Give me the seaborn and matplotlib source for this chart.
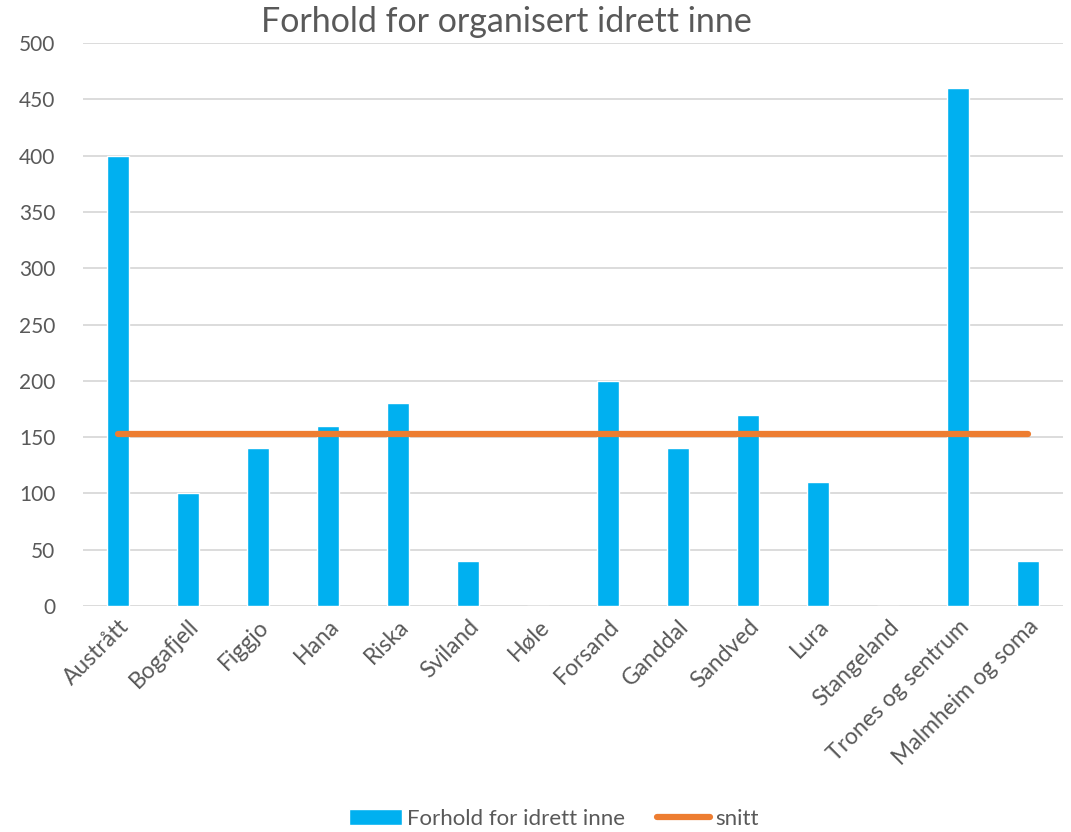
import matplotlib
matplotlib.use("Agg")
import matplotlib.pyplot as plt
import seaborn as sns
import pandas as pd
from matplotlib.patches import Patch
from matplotlib.lines import Line2D

# Values
omrader = ["Austrått", "Bogafjell", "Figgjo", "Hana", "Riska", "Sviland", "Høle",
           "Forsand", "Ganddal", "Sandved", "Lura", "Stangeland",
           "Trones og sentrum", "Malmheim og soma"]
forhold = [400, 100, 140, 160, 180, 40, 0, 200, 140, 170, 110, 0, 460, 40]
snitt = [152.86] * len(omrader)

df = pd.DataFrame({"omrade": omrader, "forhold": forhold, "snitt": snitt})

bar_color = "#00B0F0"
line_color = "#ED7D31"
text_color = "#595959"
grid_color = "#D9D9D9"

sns.set_style("white")
plt.rcParams["font.family"] = ["Lato", "DejaVu Sans"]

fig = plt.figure(figsize=(10.71, 8.32), dpi=100)
ax = fig.add_axes([0.0775, 0.2716, 0.915, 0.6767])

sns.barplot(data=df, x="omrade", y="forhold", color=bar_color, width=0.31,
            saturation=1, ax=ax, zorder=2)
sns.lineplot(data=df, x="omrade", y="snitt", color=line_color, linewidth=4.5,
             solid_capstyle="round", ax=ax, zorder=3)

ax.set_ylim(0, 500)
ax.set_xlim(-0.5, len(omrader) - 0.5)
ax.set_yticks(range(0, 501, 50))
ax.yaxis.grid(True, color=grid_color, linewidth=1.3, zorder=0)
ax.set_axisbelow(True)
for s in ax.spines.values():
    s.set_visible(False)
ax.set_xlabel("")
ax.set_ylabel("")
ax.tick_params(axis="y", length=0, colors=text_color, labelsize=15, pad=20)
ax.tick_params(axis="x", length=0, colors=text_color, labelsize=16.5, pad=7)
plt.setp(ax.get_xticklabels(), rotation=45, ha="right", rotation_mode="anchor")

fig.text(0.473, 0.973, "Forhold for organisert idrett inne", ha="center", va="center",
         fontsize=24.5, color=text_color)

handles = [Patch(facecolor=bar_color, label="Forhold for idrett inne"),
           Line2D([0], [0], color=line_color, linewidth=4.5, solid_capstyle="round", label="snitt")]
fig.legend(handles=handles, loc="center", bbox_to_anchor=(0.517, 0.016), ncol=2,
           frameon=False, fontsize=16, labelcolor=text_color, handlelength=2.4,
           handletextpad=0.25, columnspacing=1.4)

fig.savefig("out.png", dpi=100, facecolor="white")
